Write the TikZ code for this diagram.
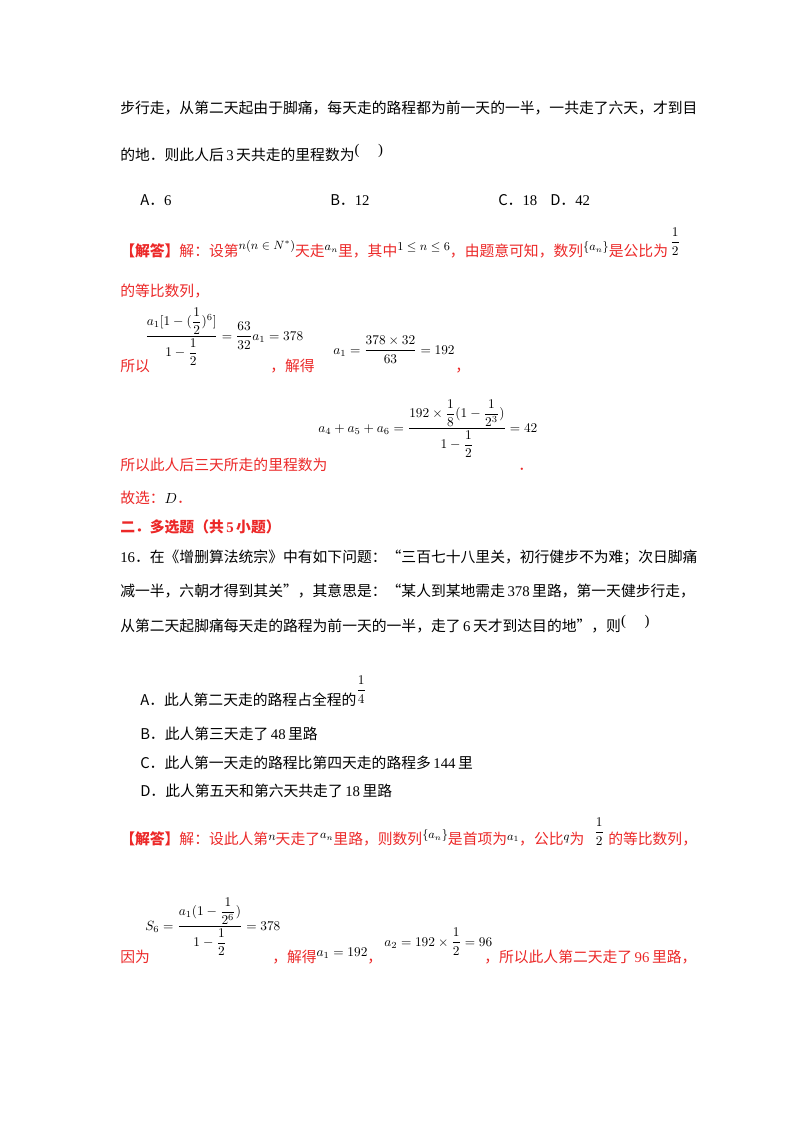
\documentclass[tikz,border=0pt]{standalone}
\usepackage{fontspec}
\setmainfont{Noto Sans CJK SC}
\newfontfamily\tm{Liberation Serif}
\usepackage{amsmath}
\definecolor{ans}{RGB}{236,40,40}
\newcommand{\im}[2][4pt]{\raisebox{#1}{\textcolor{black}{\fontsize{9}{10}\selectfont$#2$}}}
\begin{document}
\begin{tikzpicture}[x=0.75pt,y=-0.75pt,
  t/.style={anchor=base west,inner sep=0pt,font=\fontsize{11.1}{13}\selectfont},
  r/.style={t,text=ans},
  m/.style={anchor=base west,inner sep=0pt,font=\fontsize{10}{12}\selectfont}]
\useasboundingbox (0,0) rectangle (800,1132);
\fill[white] (0,0) rectangle (800,1132);
\node[t] (l1) at (120,113) {步行走，从第二天起由于脚痛，每天走的路程都为前一天的一半，一共走了六天，才到目};
\node[t] (l2) at (120,160) {的地．则此人后\,{\tm 3}\,天共走的里程数为\raisebox{4pt}{\tm(\hspace{14pt})}};
\node[t] (oa) at (140,205) {A．{\tm 6}};
\node[t] (ob) at (330,205) {B．{\tm 12}};
\node[t] (oc) at (498,205) {C．{\tm 18}};
\node[t] (od) at (550,205) {D．{\tm 42}};
\node[r] (s1) at (120,256) {\bfseries【解答】\mdseries 解：设第\im[5pt]{n(n\in N^*)}天走\im{a_n}里，其中\im{1\le n\le 6}，由题意可知，数列\im{\{a_n\}}是公比为};
\node[m] (h1) at (670,246) {$\displaystyle\frac{1}{2}$};
\node[r] (s2) at (120,296) {的等比数列，};
\node[m] (f1) at (145,340) {$\displaystyle\frac{a_1[1-(\dfrac12)^6]}{1-\dfrac12}=\frac{63}{32}a_1=378$};
\node[r] (s3) at (120,371) {所以};
\node[r] (s4) at (270,371) {，解得};
\node[m] (f2) at (333,354) {$\displaystyle a_1=\frac{378\times32}{63}=192$};
\node[r] (s5) at (455,371) {，};
\node[m] (f3) at (318,432) {$\displaystyle a_4+a_5+a_6=\frac{192\times\dfrac18(1-\dfrac{1}{2^3})}{1-\dfrac12}=42$};
\node[r] (s6) at (120,470) {所以此人后三天所走的里程数为};
\node[r] (s7) at (518,470) {．};
\node[r] (s8) at (120,503) {故选：\textcolor{black}{$D$}．};
\node[r] (s9) at (120,532) {\bfseries 二．多选题（共\,{\tm 5}\,小题）};
\node[t] (q1) at (120,562) {{\tm 16}．在《增删算法统宗》中有如下问题：“三百七十八里关，初行健步不为难；次日脚痛};
\node[t] (q2) at (120,596) {减一半，六朝才得到其关”，其意思是：“某人到某地需走\,{\tm 378}\,里路，第一天健步行走，};
\node[t] (q3) at (120,631) {从第二天起脚痛每天走的路程为前一天的一半，走了\,{\tm 6}\,天才到达目的地”，则\raisebox{4pt}{\tm(\hspace{14pt})}};
\node[t] (qa) at (140,705) {A．此人第二天走的路程占全程的};
\node[m] (h2) at (356,694) {$\displaystyle\frac{1}{4}$};
\node[t] (qb) at (140,739) {B．此人第三天走了\,{\tm 48}\,里路};
\node[t] (qc) at (140,768) {C．此人第一天走的路程比第四天走的路程多\,{\tm 144}\,里};
\node[t] (qd) at (140,796) {D．此人第五天和第六天共走了\,{\tm 18}\,里路};
\node[r] (u1) at (120,844) {\bfseries【解答】\mdseries 解：设此人第\im[3pt]{n}天走了\im{a_n}里路，则数列\im{\{a_n\}}是首项为\im[3pt]{a_1}，公比\im[3pt]{q}为};
\node[m] (h3) at (594,836) {$\displaystyle\frac{1}{2}$};
\node[r] (u2) at (608,844) {的等比数列，};
\node[m] (f4) at (145,930) {$\displaystyle S_6=\frac{a_1(1-\dfrac{1}{2^6})}{1-\dfrac12}=378$};
\node[r] (u3) at (120,962) {因为};
\node[r] (u4) at (272,962) {，解得\raisebox{4pt}{\textcolor{black}{\fontsize{10}{12}\selectfont$a_1=192$}}，};
\node[m] (f5) at (384,946) {$\displaystyle a_2=192\times\frac12=96$};
\node[r] (u5) at (484,962) {，所以此人第二天走了\,{\tm 96}\,里路，};
\end{tikzpicture}
\end{document}
